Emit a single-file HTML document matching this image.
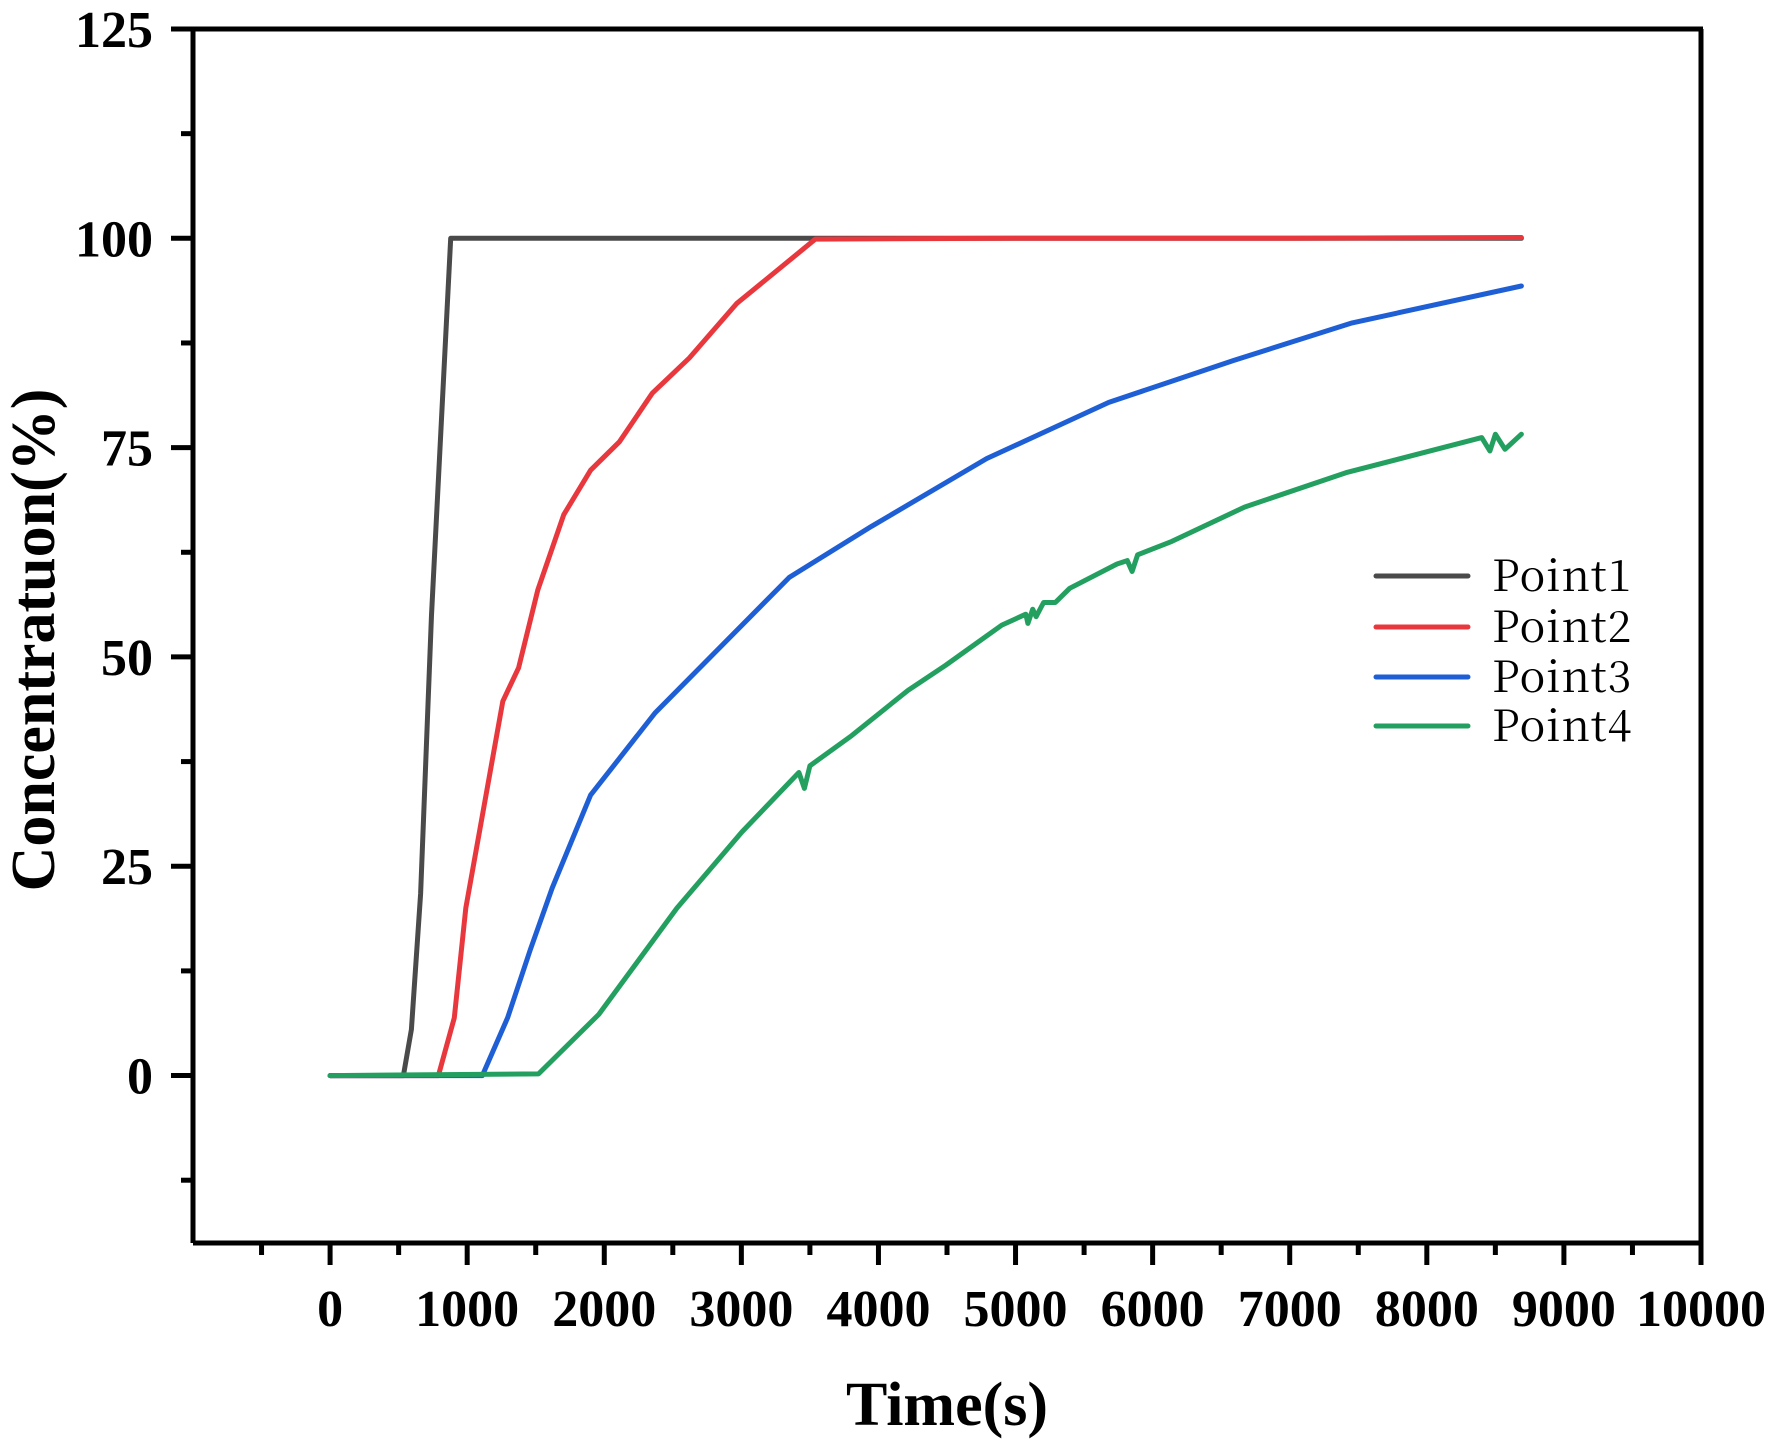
<!DOCTYPE html>
<html><head><meta charset="utf-8"><style>
html,body{margin:0;padding:0;background:#fff;}
svg{display:block;}
</style></head><body>
<svg id="chart" width="1772" height="1441" viewBox="0 0 1772 1441" xmlns="http://www.w3.org/2000/svg">
<rect width="1772" height="1441" fill="#fff"/>
<g id="series"></g>
<g id="axes"></g>
<g id="legend"></g>
<text x="947" y="1425" text-anchor="middle" font-family="Liberation Serif, serif" font-weight="bold" font-size="62">Time(s)</text>
<text transform="translate(54,640) rotate(-90)" text-anchor="middle" font-family="Liberation Serif, serif" font-weight="bold" font-size="62">Concentratuon(%)</text>
</svg>
<script>
const xTicks = [0,1000,2000,3000,4000,5000,6000,7000,8000,9000,10000];
const yTicks = [0,25,50,75,100,125];
const seriesNames = ["Point1","Point2","Point3","Point4"];
const seriesColors = ["#4a4a4a","#e8383d","#1f5fd6","#23a05f"];
const p1x = [0,535,593,660,740,880,2800,5000,7000,8690];
const p1y = [0,0,5.5,21.7,55,100,100,100,100,100];
const p2x = [0,790,906,990,1260,1375,1515,1705,1900,2110,2350,2620,2965,3540,5000,7000,8690];
const p2y = [0,0,6.9,20,44.7,48.7,58,67,72.3,75.7,81.5,85.7,92.2,99.9,100,100,100.1];
const p3x = [0,1110,1295,1460,1620,1900,2370,3350,3950,4790,5680,6590,7455,8690];
const p3y = [0,0,6.9,15,22.4,33.5,43.3,59.5,65.6,73.7,80.4,85.4,89.9,94.3];
const p4x = [0,1520,1960,2530,3005,3420,3460,3500,3805,4215,4490,4900,5075,5090,5125,5150,5205,5290,5395,5740,5815,5850,5890,6140,6670,7410,8400,8460,8500,8570,8690];
const p4y = [0,0.2,7.3,20,29.1,36.2,34.3,37,40.6,46,49,53.8,55.1,54,55.7,54.8,56.5,56.5,58.2,61.1,61.5,60.2,62.2,63.8,67.9,72,76.2,74.6,76.6,74.8,76.6];

const NS = "http://www.w3.org/2000/svg";
const L = 193, R = 1701, T = 29, B = 1243;
const XMIN = -1000, XMAX = 10000, YMIN = -20, YMAX = 125;
function sx(v){ return L + (v - XMIN) / (XMAX - XMIN) * (R - L); }
function sy(v){ return B - (v - YMIN) / (YMAX - YMIN) * (B - T); }
function mk(tag, attrs, parent){ const e = document.createElementNS(NS, tag); for (const k in attrs) e.setAttribute(k, attrs[k]); parent.appendChild(e); return e; }

const sg = document.getElementById('series');
const allX = [p1x,p2x,p3x,p4x], allY = [p1y,p2y,p3y,p4y];
for (let s = 0; s < 4; s++) {
  const d = allX[s].map((x,i) => (i ? 'L' : 'M') + sx(x).toFixed(1) + ',' + sy(allY[s][i]).toFixed(1)).join(' ');
  const p = mk('path', {d: d, fill: 'none', stroke: seriesColors[s], 'stroke-width': 5, 'stroke-linejoin': 'round', 'stroke-linecap': 'round'}, sg);
  
  
}

const ax = document.getElementById('axes');
const frame = mk('path', {d: `M${L},${B} L${R},${B} L${R},${T} M${L},${B} L${L},${T} M${L-22},${T} L${R+2},${T}`, fill: 'none', stroke: '#000', 'stroke-width': 5}, ax);



for (let v = -500; v <= 10000; v += 500) {
  const major = v % 1000 === 0;
  const t = mk('line', {x1: sx(v), x2: sx(v), y1: B, y2: B + (major ? 22 : 12), stroke: '#000', 'stroke-width': 5}, ax);
  
  
}
xTicks.forEach(v => {
  const t = mk('text', {x: sx(v), y: 1326, 'text-anchor': 'middle', 'font-family': 'Liberation Serif, serif', 'font-weight': 'bold', 'font-size': 52}, ax);
  t.textContent = v;
  
  
});
for (let v = -12.5; v <= 112.5; v += 12.5) {
  const major = Math.abs(v % 25) < 1e-6;
  const t = mk('line', {x1: L, x2: L - (major ? 22 : 12), y1: sy(v), y2: sy(v), stroke: '#000', 'stroke-width': 5}, ax);
  
  
}
yTicks.forEach(v => {
  const t = mk('text', {x: 153, y: sy(v) + 18, 'text-anchor': 'end', 'font-family': 'Liberation Serif, serif', 'font-weight': 'bold', 'font-size': 52}, ax);
  t.textContent = v;
  
  
});

const lg = document.getElementById('legend');
const legY = [576, 627, 677, 726];
for (let s = 0; s < 4; s++) {
  const g = mk('g', {}, lg);
  
  
  mk('line', {x1: 1376, x2: 1468, y1: legY[s], y2: legY[s], stroke: seriesColors[s], 'stroke-width': 5, 'stroke-linecap': 'round'}, g);
  const t = mk('text', {x: 1492, y: legY[s] + 15, 'font-family': 'Noto Serif CJK SC, Liberation Serif, serif', 'font-size': 43, 'letter-spacing': 1}, g);
  t.textContent = seriesNames[s];
}
</script>
</body></html>
